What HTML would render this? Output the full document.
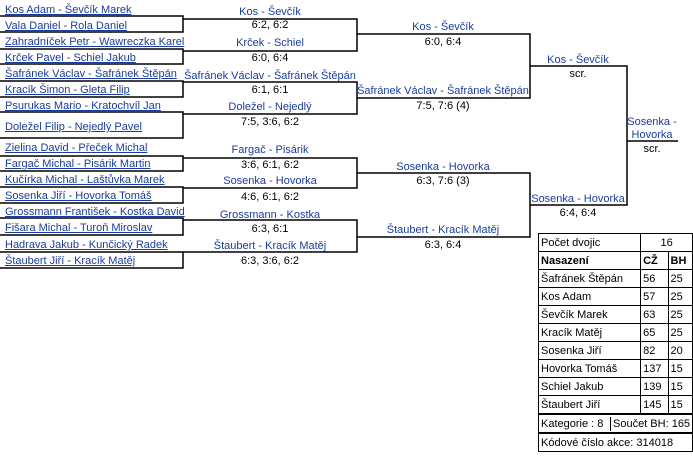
<!DOCTYPE html>
<html><head><meta charset="utf-8"><style>
body{margin:0;width:693px;height:461px;background:#fff;position:relative;overflow:hidden;font-family:"Liberation Sans",Tahoma,sans-serif;font-size:11px;}
.t{position:absolute;line-height:14px;white-space:nowrap;}
.n{color:#1a3c9e;text-decoration:underline;left:5px;}
.b{color:#1a3c9e;}
.c{transform:translateX(-50%);text-align:center;}
.k{color:#000;}
table{position:absolute;left:538px;top:233px;width:149px;border-collapse:collapse;font-size:11px;white-space:nowrap;}
td{border:1px solid #000;padding:0 2px;height:17px;line-height:14px;}
</style></head><body>
<svg width="693" height="461" style="position:absolute;left:0;top:0">
<g stroke="#000" stroke-width="1.5" fill="none">
<path d="M0 16H183V32H0M0 49H183V64H0M0 81H183V97H0M0 112H183V138H0"/>
<path d="M0 156H183V171H0M0 187H183V203H0M0 218H183V235H0M0 252H183V268H0"/>
<path d="M183 19H357V51H183M183 82H357V114H183M183 158H357V188H183M183 220H357V252H183"/>
<path d="M357 34H530V98H357M357 173H530V237H357"/>
<path d="M530 66H627V205H530"/>
<path d="M627 141H678"/>
</g></svg>
<div class="t n" style="top:3px">Kos Adam - Ševčík Marek</div>
<div class="t n" style="top:19px">Vala Daniel - Rola Daniel</div>
<div class="t n" style="top:35px">Zahradníček Petr - Wawreczka Karel</div>
<div class="t n" style="top:51px">Krček Pavel - Schiel Jakub</div>
<div class="t n" style="top:67px">Šafránek Václav - Šafránek Štěpán</div>
<div class="t n" style="top:83px">Kracík Šimon - Gleta Filip</div>
<div class="t n" style="top:99px">Psurukas Mario - Kratochvíl Jan</div>
<div class="t n" style="top:120px">Doležel Filip - Nejedlý Pavel</div>
<div class="t n" style="top:141px">Zielina David - Přeček Michal</div>
<div class="t n" style="top:157px">Fargač Michal - Pisárik Martin</div>
<div class="t n" style="top:173px">Kučírka Michal - Laštůvka Marek</div>
<div class="t n" style="top:189px">Sosenka Jiří - Hovorka Tomáš</div>
<div class="t n" style="top:205px">Grossmann František - Kostka David</div>
<div class="t n" style="top:221px">Fišara Michal - Turoň Miroslav</div>
<div class="t n" style="top:238px">Hadrava Jakub - Kunčický Radek</div>
<div class="t n" style="top:254px">Štaubert Jiří - Kracík Matěj</div>

<div class="t b c" style="left:270px;top:5px">Kos - Ševčík</div>
<div class="t k c" style="left:270px;top:18px">6:2, 6:2</div>
<div class="t b c" style="left:270px;top:36px">Krček - Schiel</div>
<div class="t k c" style="left:270px;top:51px">6:0, 6:4</div>
<div class="t b c" style="left:270px;top:69px">Šafránek Václav - Šafránek Štěpán</div>
<div class="t k c" style="left:270px;top:83px">6:1, 6:1</div>
<div class="t b c" style="left:270px;top:100px">Doležel - Nejedlý</div>
<div class="t k c" style="left:270px;top:115px">7:5, 3:6, 6:2</div>
<div class="t b c" style="left:270px;top:143px">Fargač - Pisárik</div>
<div class="t k c" style="left:270px;top:158px">3:6, 6:1, 6:2</div>
<div class="t b c" style="left:270px;top:174px">Sosenka - Hovorka</div>
<div class="t k c" style="left:270px;top:190px">4:6, 6:1, 6:2</div>
<div class="t b c" style="left:270px;top:208px">Grossmann - Kostka</div>
<div class="t k c" style="left:270px;top:222px">6:3, 6:1</div>
<div class="t b c" style="left:270px;top:239px">Štaubert - Kracík Matěj</div>
<div class="t k c" style="left:270px;top:254px">6:3, 3:6, 6:2</div>

<div class="t b c" style="left:443px;top:20px">Kos - Ševčík</div>
<div class="t k c" style="left:443px;top:35px">6:0, 6:4</div>
<div class="t b c" style="left:443px;top:84px">Šafránek Václav - Šafránek Štěpán</div>
<div class="t k c" style="left:443px;top:99px">7:5, 7:6 (4)</div>
<div class="t b c" style="left:443px;top:160px">Sosenka - Hovorka</div>
<div class="t k c" style="left:443px;top:174px">6:3, 7:6 (3)</div>
<div class="t b c" style="left:443px;top:223px">Štaubert - Kracík Matěj</div>
<div class="t k c" style="left:443px;top:238px">6:3, 6:4</div>

<div class="t b c" style="left:578px;top:53px">Kos - Ševčík</div>
<div class="t k c" style="left:578px;top:67px">scr.</div>
<div class="t b c" style="left:578px;top:192px">Sosenka - Hovorka</div>
<div class="t k c" style="left:578px;top:206px">6:4, 6:4</div>

<div class="t b c" style="left:652px;top:115px">Sosenka -</div>
<div class="t b c" style="left:652px;top:128px">Hovorka</div>
<div class="t k c" style="left:652px;top:142px">scr.</div>

<table>
<tr><td>Počet dvojic</td><td colspan="2" style="text-align:center">16</td></tr>
<tr><td><b>Nasazení</b></td><td><b>CŽ</b></td><td><b>BH</b></td></tr>
<tr><td>Šafránek Štěpán</td><td>56</td><td>25</td></tr>
<tr><td>Kos Adam</td><td>57</td><td>25</td></tr>
<tr><td>Ševčík Marek</td><td>63</td><td>25</td></tr>
<tr><td>Kracík Matěj</td><td>65</td><td>25</td></tr>
<tr><td>Sosenka Jiří</td><td>82</td><td>20</td></tr>
<tr><td>Hovorka Tomáš</td><td>137</td><td>15</td></tr>
<tr><td>Schiel Jakub</td><td>139</td><td>15</td></tr>
<tr><td>Štaubert Jiří</td><td>145</td><td>15</td></tr>
<tr><td colspan="3" style="padding:0;border-top:2px solid #000"><div style="display:flex;white-space:nowrap"><span style="padding:0 2px;border-right:1px solid #000;width:67px">Kategorie : 8</span><span style="padding:0 2px">Součet BH: 165</span></div></td></tr>
<tr><td colspan="3" style="border-top:2px solid #000">Kódové číslo akce: 314018</td></tr>
</table>
</body></html>
